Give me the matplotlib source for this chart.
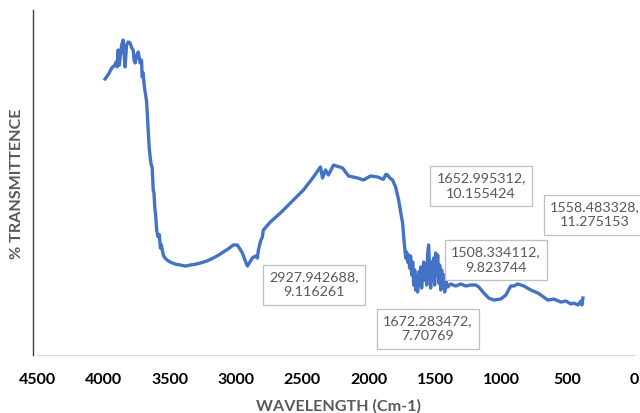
import matplotlib
matplotlib.use("Agg")
import matplotlib.pyplot as plt

# FTIR spectrum
wavenumber = [3987, 3960, 3935, 3911, 3903, 3896, 3888, 3880, 3862, 3851, 3843, 3836, 3825, 3813,
              3798, 3786, 3775, 3768, 3760, 3748, 3737, 3722, 3712, 3707, 3700, 3692, 3685, 3675,
              3669, 3662, 3654, 3647, 3640, 3632, 3624, 3618, 3612, 3605, 3598, 3590, 3586, 3578,
              3570, 3563, 3556, 3545, 3534, 3520, 3496, 3460, 3420, 3380, 3345, 3300, 3269, 3220,
              3171, 3130, 3096, 3060, 3020, 2990, 2970, 2952, 2930, 2914, 2895, 2877, 2854, 2839,
              2831, 2815, 2801, 2794, 2741, 2665, 2567, 2492, 2416, 2363, 2348, 2325, 2303, 2265,
              2197, 2152, 2084, 2039, 1986, 1933, 1890, 1870, 1857, 1840, 1820, 1797, 1774, 1759,
              1744, 1736, 1721, 1714, 1706, 1699, 1691, 1684, 1676, 1668, 1661, 1653, 1646, 1638,
              1631, 1623, 1616, 1608, 1601, 1593, 1585, 1578, 1570, 1563, 1555, 1548, 1540, 1533,
              1525, 1518, 1510, 1503, 1495, 1487, 1480, 1472, 1465, 1457, 1450, 1442, 1434, 1427,
              1419, 1404, 1382, 1344, 1306, 1268, 1231, 1193, 1170, 1132, 1095, 1057, 1004, 966,
              929, 906, 876, 830, 778, 725, 702, 649, 604, 551, 513, 476, 453, 423, 400, 393, 385]
transmittance = [24.50, 24.90, 25.40, 25.62, 25.86, 25.46, 26.81, 25.60, 27.20, 27.61, 26.50, 25.46,
                 27.20, 27.45, 27.37, 26.97, 26.81, 26.00, 25.78, 26.40, 26.65, 25.78, 26.00, 24.66,
                 24.98, 24.00, 23.46, 22.80, 21.87, 20.43, 19.00, 18.28, 17.70, 17.49, 15.65, 15.40,
                 14.22, 13.60, 12.46, 12.00, 11.91, 12.10, 11.03, 11.30, 10.87, 10.39, 10.23, 10.07,
                 9.91, 9.75, 9.67, 9.59, 9.67, 9.75, 9.83, 9.99, 10.23, 10.47, 10.71, 10.95, 11.27,
                 11.27, 10.95, 10.63, 9.99, 9.59, 9.91, 10.23, 10.39, 10.23, 10.87, 11.59, 11.91,
                 12.46, 13.10, 13.82, 14.86, 15.65, 16.69, 17.49, 16.61, 17.25, 16.85, 17.64, 17.41,
                 16.77, 16.61, 16.45, 16.77, 16.69, 16.50, 16.90, 16.85, 16.60, 16.45, 15.89, 14.86,
                 13.90, 13.00, 11.90, 10.23, 10.71, 9.91, 10.47, 9.43, 10.39, 8.88, 9.91, 8.08, 9.28,
                 7.68, 8.88, 7.52, 9.12, 8.08, 9.51, 7.84, 8.88, 9.91, 8.48, 9.28, 8.08, 10.63, 11.27,
                 9.28, 7.84, 9.91, 8.48, 10.23, 8.08, 10.63, 8.88, 10.47, 8.24, 9.67, 7.68, 9.28,
                 7.84, 8.88, 7.52, 8.48, 7.92, 8.16, 8.00, 8.16, 8.00, 8.08, 8.08, 7.92, 7.44, 7.04,
                 6.88, 6.96, 7.28, 8.00, 8.00, 8.16, 8.00, 7.68, 7.44, 7.28, 6.88, 6.96, 6.72, 6.80,
                 6.57, 6.64, 6.49, 6.80, 6.49, 7.04]

label_wn = [2927.942688, 1672.283472, 1652.995312, 1558.483328, 1508.334112]
label_t = [9.116261, 7.70769, 10.155424, 11.275153, 9.823744]

xticks = [4500, 4000, 3500, 3000, 2500, 2000, 1500, 1000, 500, 0]

W, H = 640, 413
fig = plt.figure(figsize=(6.4, 4.13), dpi=100)
ax = fig.add_axes([37 / W, 1 - 355 / H, 597 / W, 345 / H])
ax.plot(wavenumber, transmittance, color="#4472C4", lw=2.4, solid_joinstyle="round")
ax.set_xlim(4500, 0)
ax.set_ylim(2.5, 30)
ax.set_xticks(xticks)
ax.set_xticklabels([str(t) for t in xticks], fontweight="bold", fontsize=11.5, family="Lato")
ax.tick_params(axis="x", length=0, pad=13, colors="black")
ax.set_yticks([])
for s in ["top", "right"]:
    ax.spines[s].set_visible(False)
ax.spines["bottom"].set_color("#D9D9D9")
ax.spines["bottom"].set_linewidth(0.9)
ax.spines["left"].set_color("#404040")
ax.spines["left"].set_linewidth(1.0)
ax.spines["left"].set_position(("outward", 3))

fig.text(338 / W, 1 - 406 / H, "WAVELENGTH (Cm-1)", ha="center", va="center",
         fontweight="bold", color="#595959", fontsize=11.6, family="Lato")
fig.text(17 / W, 1 - 184 / H, "% TRANSMITTENCE", ha="center", va="center", rotation=90,
         fontweight="bold", color="#595959", fontsize=11.6, family="Lato")

label_centers = [(314, 285), (428, 329), (481, 186), (595, 215), (496, 260)]
for (cx, cy), xv, yv in zip(label_centers, label_wn, label_t):
    fig.text(cx / W, 1 - cy / H, f"{xv},\n{yv}", ha="center", va="center",
             color="#595959", fontsize=10.3, family="Lato", linespacing=1.3,
             bbox=dict(boxstyle="square,pad=0.42", fc="white", ec="#BFBFBF", lw=0.9))

fig.savefig("out.png", dpi=100)
